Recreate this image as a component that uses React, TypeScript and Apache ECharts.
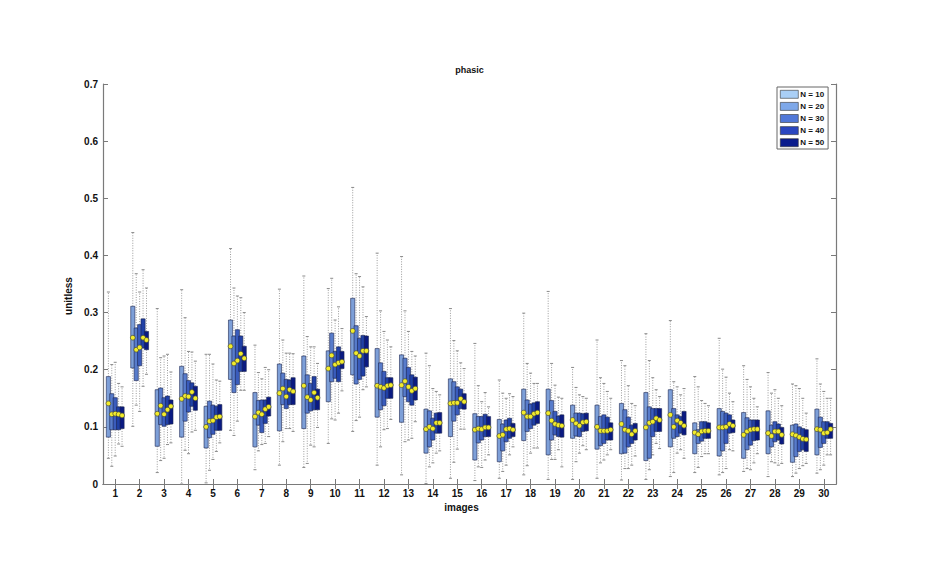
import React, { useEffect, useRef } from "react";
import * as echarts from "echarts";

const categories = ["1","2","3","4","5","6","7","8","9","10","11","12","13","14","15","16","17","18","19","20","21","22","23","24","25","26","27","28","29","30"];
const seriesNames = ["N = 10", "N = 20", "N = 30", "N = 40", "N = 50"];
const yTicks = [0, 0.1, 0.2, 0.3, 0.4, 0.5, 0.6, 0.7];

// each entry: [min, q1, mean, q3, max]
const statsN10 = [
  [0.045,0.082,0.141,0.188,0.336],[0.101,0.203,0.256,0.311,0.44],[0.02,0.066,0.123,0.165,0.307],
  [0.0,0.082,0.149,0.206,0.34],[0.002,0.063,0.1,0.136,0.227],[0.094,0.183,0.241,0.287,0.412],
  [0.025,0.065,0.118,0.16,0.243],[0.033,0.093,0.159,0.21,0.341],[0.029,0.097,0.172,0.224,0.364],
  [0.071,0.144,0.202,0.233,0.342],[0.092,0.191,0.268,0.325,0.519],[0.033,0.117,0.172,0.237,0.404],
  [0.016,0.108,0.173,0.226,0.398],[0.001,0.054,0.096,0.131,0.229],[0.01,0.083,0.141,0.184,0.307],
  [0.006,0.042,0.095,0.123,0.246],[0.01,0.039,0.084,0.113,0.182],[0.016,0.076,0.125,0.166,0.299],
  [0.008,0.051,0.124,0.166,0.337],[0.008,0.08,0.112,0.138,0.204],[0.01,0.061,0.1,0.138,0.252],
  [0.007,0.053,0.105,0.141,0.216],[0.008,0.041,0.099,0.16,0.263],[0.013,0.065,0.121,0.165,0.286],
  [0.02,0.053,0.09,0.107,0.188],[0.016,0.049,0.099,0.132,0.255],[0.022,0.045,0.086,0.125,0.207],
  [0.013,0.053,0.089,0.128,0.195],[0.013,0.038,0.087,0.103,0.175],[0.019,0.051,0.096,0.131,0.219]
];
const statsN20 = [
  [0.031,0.095,0.122,0.158,0.209],[0.138,0.181,0.235,0.273,0.368],[0.041,0.104,0.137,0.168,0.221],
  [0.059,0.11,0.154,0.193,0.291],[0.024,0.081,0.11,0.145,0.227],[0.085,0.16,0.211,0.259,0.343],
  [0.058,0.103,0.125,0.146,0.195],[0.074,0.139,0.167,0.194,0.252],[0.036,0.124,0.152,0.191,0.258],
  [0.114,0.179,0.225,0.264,0.36],[0.111,0.175,0.229,0.277,0.368],[0.065,0.13,0.17,0.212,0.303],
  [0.074,0.153,0.18,0.22,0.303],[0.03,0.065,0.1,0.128,0.207],[0.038,0.11,0.142,0.179,0.251],
  [0.03,0.072,0.097,0.118,0.172],[0.022,0.058,0.086,0.105,0.159],[0.032,0.092,0.118,0.147,0.211],
  [0.043,0.077,0.111,0.146,0.211],[0.039,0.084,0.106,0.124,0.169],[0.037,0.067,0.093,0.118,0.186],
  [0.027,0.054,0.095,0.13,0.207],[0.025,0.045,0.107,0.135,0.216],[0.02,0.08,0.1,0.132,0.179],
  [0.029,0.071,0.087,0.095,0.17],[0.02,0.058,0.099,0.127,0.201],[0.027,0.06,0.092,0.116,0.183],
  [0.039,0.065,0.084,0.103,0.159],[0.019,0.048,0.085,0.105,0.172],[0.025,0.064,0.095,0.117,0.175]
];
const statsN30 = [
  [0.049,0.095,0.123,0.151,0.213],[0.127,0.207,0.239,0.279,0.336],[0.045,0.101,0.122,0.151,0.224],
  [0.053,0.126,0.153,0.181,0.232],[0.043,0.087,0.111,0.138,0.21],[0.11,0.174,0.216,0.27,0.329],
  [0.069,0.09,0.122,0.147,0.184],[0.097,0.132,0.153,0.183,0.229],[0.068,0.128,0.147,0.176,0.24],
  [0.112,0.185,0.209,0.232,0.287],[0.117,0.183,0.224,0.255,0.363],[0.095,0.137,0.168,0.197,0.267],
  [0.077,0.144,0.17,0.204,0.267],[0.037,0.077,0.097,0.115,0.167],[0.061,0.121,0.142,0.17,0.233],
  [0.029,0.077,0.096,0.118,0.144],[0.033,0.074,0.096,0.112,0.15],[0.054,0.097,0.118,0.14,0.194],
  [0.043,0.086,0.105,0.127,0.173],[0.054,0.083,0.102,0.124,0.156],[0.042,0.071,0.093,0.121,0.176],
  [0.027,0.065,0.093,0.117,0.172],[0.051,0.083,0.109,0.132,0.186],[0.054,0.083,0.111,0.121,0.17],
  [0.048,0.075,0.092,0.109,0.146],[0.027,0.071,0.1,0.124,0.187],[0.025,0.068,0.095,0.112,0.17],
  [0.037,0.074,0.092,0.109,0.165],[0.027,0.057,0.082,0.1,0.167],[0.033,0.071,0.089,0.109,0.162]
];
const statsN40 = [
  [0.07,0.095,0.122,0.135,0.176],[0.171,0.238,0.256,0.289,0.375],[0.069,0.104,0.13,0.154,0.227],
  [0.091,0.136,0.161,0.177,0.231],[0.057,0.094,0.117,0.136,0.182],[0.164,0.197,0.228,0.259,0.326],
  [0.071,0.106,0.131,0.147,0.204],[0.097,0.139,0.165,0.182,0.229],[0.065,0.13,0.16,0.188,0.24],
  [0.124,0.179,0.212,0.24,0.31],[0.165,0.189,0.233,0.26,0.345],[0.097,0.15,0.172,0.186,0.252],
  [0.08,0.138,0.163,0.191,0.232],[0.054,0.089,0.107,0.124,0.162],[0.096,0.132,0.149,0.166,0.212],
  [0.042,0.083,0.099,0.122,0.16],[0.051,0.08,0.097,0.115,0.158],[0.063,0.103,0.123,0.142,0.176],
  [0.06,0.083,0.103,0.119,0.152],[0.067,0.092,0.108,0.123,0.153],[0.051,0.077,0.093,0.117,0.162],
  [0.033,0.071,0.087,0.103,0.141],[0.071,0.092,0.115,0.132,0.165],[0.06,0.089,0.107,0.118,0.156],
  [0.053,0.08,0.093,0.109,0.141],[0.06,0.089,0.105,0.121,0.159],[0.037,0.076,0.096,0.112,0.15],
  [0.033,0.077,0.092,0.105,0.15],[0.032,0.06,0.079,0.097,0.15],[0.051,0.08,0.09,0.109,0.15]
];
const statsN50 = [
  [0.066,0.097,0.12,0.135,0.17],[0.192,0.235,0.252,0.267,0.343],[0.072,0.105,0.136,0.147,0.196],
  [0.094,0.129,0.15,0.171,0.215],[0.072,0.094,0.118,0.139,0.18],[0.164,0.197,0.22,0.241,0.3],
  [0.083,0.119,0.135,0.152,0.2],[0.092,0.139,0.162,0.186,0.228],[0.099,0.13,0.151,0.166,0.211],
  [0.163,0.202,0.214,0.232,0.272],[0.17,0.205,0.233,0.259,0.293],[0.113,0.15,0.173,0.186,0.24],
  [0.109,0.147,0.167,0.187,0.224],[0.058,0.089,0.107,0.125,0.156],[0.096,0.131,0.144,0.158,0.202],
  [0.051,0.083,0.099,0.118,0.135],[0.065,0.083,0.095,0.106,0.153],[0.063,0.106,0.125,0.144,0.176],
  [0.03,0.082,0.102,0.121,0.15],[0.06,0.093,0.109,0.124,0.15],[0.06,0.077,0.095,0.107,0.15],
  [0.049,0.077,0.093,0.106,0.137],[0.062,0.092,0.112,0.132,0.153],[0.045,0.086,0.102,0.127,0.167],
  [0.053,0.08,0.093,0.107,0.137],[0.058,0.09,0.102,0.112,0.144],[0.053,0.077,0.096,0.112,0.135],
  [0.036,0.07,0.086,0.099,0.137],[0.036,0.057,0.078,0.095,0.124],[0.051,0.08,0.096,0.106,0.15]
];

const allStats = [statsN10, statsN20, statsN30, statsN40, statsN50];
const boxColors = ["#7d9fd8", "#587ccb", "#3a5cbc", "#2040a6", "#0a1a82"];
const legendColors = ["#a9cff6", "#7ea8e9", "#5178d8", "#2a46c0", "#081a8c"];

const FONT = "'Liberation Sans', Arial, sans-serif";

export default function App() {
  const ref = useRef<HTMLDivElement>(null);
  useEffect(() => {
    if (!ref.current) return;
    const chart = echarts.init(ref.current, null, { renderer: "svg" });

    const geom = (k: number, api: any) => {
      const idx = api.value(0);
      const bw = api.size([1, 0])[0];
      const cx = api.coord([idx, 0])[0] + (k - 2) * bw * 0.14;
      const w = bw * 0.17;
      return {
        cx, w,
        yMin: api.coord([idx, api.value(1)])[1],
        yQ1: api.coord([idx, api.value(2)])[1],
        yMean: api.coord([idx, api.value(3)])[1],
        yQ3: api.coord([idx, api.value(4)])[1],
        yMax: api.coord([idx, api.value(5)])[1],
      };
    };

    const series: any[] = [];
    allStats.forEach((stats, k) => {
      const data = stats.map((s, i) => [i, ...s]);
      series.push({
        type: "custom",
        data,
        encode: { x: 0, y: [1, 2, 3, 4, 5] },
        silent: true,
        z: 1,
        renderItem: (_p: any, api: any) => {
          const g = geom(k, api);
          const dash = { stroke: "#9a9a9a", lineWidth: 1, lineDash: [1, 1.5] };
          const cap = { stroke: "#8a8a8a", lineWidth: 1 };
          return {
            type: "group",
            children: [
              { type: "line", shape: { x1: g.cx, y1: g.yQ3, x2: g.cx, y2: g.yMax }, style: dash },
              { type: "line", shape: { x1: g.cx, y1: g.yQ1, x2: g.cx, y2: g.yMin }, style: dash },
              { type: "line", shape: { x1: g.cx - 1.5, y1: g.yMax, x2: g.cx + 1.5, y2: g.yMax }, style: cap },
              { type: "line", shape: { x1: g.cx - 1.5, y1: g.yMin, x2: g.cx + 1.5, y2: g.yMin }, style: cap },
            ],
          };
        },
      });
    });
    allStats.forEach((stats, k) => {
      const data = stats.map((s, i) => [i, ...s]);
      series.push({
        type: "custom",
        name: seriesNames[k],
        data,
        encode: { x: 0, y: [1, 2, 3, 4, 5] },
        silent: true,
        z: 2,
        itemStyle: { color: boxColors[k] },
        renderItem: (_p: any, api: any) => {
          const g = geom(k, api);
          return {
            type: "rect",
            shape: { x: g.cx - g.w / 2, y: g.yQ3, width: g.w, height: g.yQ1 - g.yQ3 },
            style: { fill: boxColors[k], stroke: "#1b2550", lineWidth: 0.6 },
          };
        },
      });
    });
    allStats.forEach((stats, k) => {
      const data = stats.map((s, i) => [i, ...s]);
      series.push({
        type: "custom",
        data,
        encode: { x: 0, y: [1, 2, 3, 4, 5] },
        silent: true,
        z: 3,
        renderItem: (_p: any, api: any) => {
          const g = geom(k, api);
          return {
            type: "circle",
            shape: { cx: g.cx, cy: g.yMean, r: 2.4 },
            style: { fill: "#f2ec2c", stroke: "#4a4a30", lineWidth: 0.7 },
          };
        },
      });
    });

    const axisLine = { show: true, lineStyle: { color: "#7a7a7a", width: 1.2 } };
    const tick = { show: true, inside: true, length: 5, lineStyle: { color: "#7a7a7a" } };
    const labelStyle = { color: "#111", fontSize: 10, fontWeight: "bold" as const, fontFamily: FONT };

    chart.setOption({
      animation: false,
      backgroundColor: "#ffffff",
      textStyle: { fontFamily: FONT },
      grid: { left: 103, right: 114, top: 84, bottom: 94, show: false },
      legend: {
        orient: "vertical",
        left: 777,
        top: 87,
        padding: [3, 4, 2, 3],
        itemWidth: 18,
        itemHeight: 8,
        itemGap: 3.5,
        borderColor: "#666",
        borderWidth: 1,
        backgroundColor: "#fff",
        selectedMode: false,
        icon: "rect",
        textStyle: { fontSize: 8, fontWeight: "bold", color: "#111", fontFamily: FONT, padding: [0, 0, 0, -3] },
        data: seriesNames.map((n, k) => ({
          name: n,
          itemStyle: { color: legendColors[k], borderColor: "#333", borderWidth: 0.6 },
        })),
      },
      xAxis: [
        {
          type: "category",
          data: categories,
          position: "bottom",
          axisLine,
          axisTick: { ...tick, alignWithLabel: true },
          axisLabel: { ...labelStyle, margin: 4, interval: 0 },
          splitLine: { show: false },
          name: "images",
          nameLocation: "middle",
          nameGap: 16,
          nameTextStyle: { ...labelStyle, padding: [0, 16, 0, 0] },
        },
        {
          type: "category",
          data: categories,
          position: "top",
          axisLine,
          axisTick: { ...tick, alignWithLabel: true },
          axisLabel: { show: false },
          splitLine: { show: false },
          name: "phasic",
          nameLocation: "middle",
          nameGap: 10,
          nameTextStyle: { ...labelStyle, fontSize: 9 },
        },
      ],
      yAxis: [
        {
          type: "value",
          min: 0,
          max: 0.7,
          interval: 0.1,
          position: "left",
          axisLine,
          axisTick: tick,
          axisLabel: {
            ...labelStyle,
            margin: 5,
            formatter: (v: number) => {
              const t = yTicks.find((y) => Math.abs(y - v) < 1e-6);
              return t === 0 ? "0" : (t ?? v).toFixed(1);
            },
          },
          splitLine: { show: false },
          name: "unitless",
          nameLocation: "middle",
          nameGap: 24,
          nameTextStyle: { ...labelStyle, padding: [0, 24, 0, 0] },
        },
        {
          type: "value",
          min: 0,
          max: 0.7,
          interval: 0.1,
          position: "right",
          axisLine,
          axisTick: tick,
          axisLabel: { show: false },
          splitLine: { show: false },
        },
      ],
      series,
    });
    return () => chart.dispose();
  }, []);
  return (
    <div
      ref={ref}
      style={{ position: "fixed", left: 0, top: 0, width: 950, height: 578, background: "#fff" }}
    />
  );
}
